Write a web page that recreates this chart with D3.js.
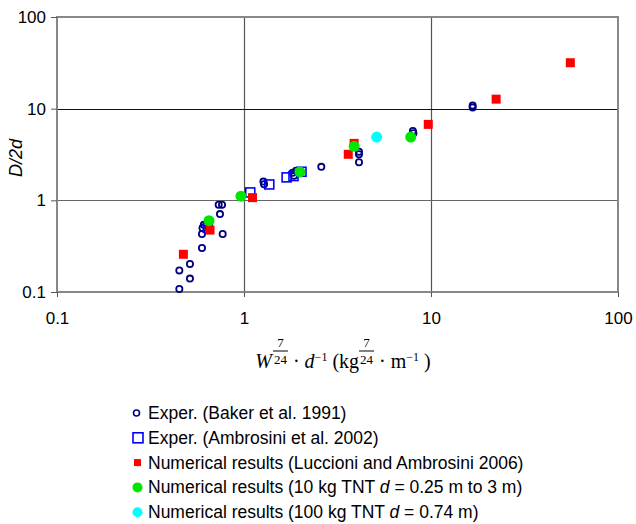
<!DOCTYPE html>
<html><head><meta charset="utf-8">
<script src="https://cdn.jsdelivr.net/npm/d3@7"></script>
<style>body{margin:0;background:#fff}svg{display:block}text{white-space:pre}</style>
</head><body>
<svg id="c" width="636" height="524"></svg>
<script>
// ---- data ----
const xTicks = [0.1, 1, 10, 100];
const yTicks = [0.1, 1, 10, 100];
const tickLabels = ["0.1", "1", "10", "100"];

const bakerX = [0.451,0.514,0.451,0.514,0.596,0.596,0.769,0.744,0.732,0.763,0.61,0.60,1.27,1.28,1.82,1.85,1.9,2.59,4.12,4.12,4.12,8.0,8.05,16.7,16.7];
const bakerY = [0.108,0.140,0.172,0.202,0.302,0.43,0.43,0.708,0.895,0.895,0.54,0.50,1.6,1.5,2.0,1.85,2.1,2.32,3.39,3.18,2.6,5.7,5.4,10.3,10.8];
const ambX = [0.64,1.08,1.365,1.69,1.84,2.03];
const ambY = [0.5,1.22,1.49,1.78,1.84,2.05];
const lucX = [0.474,0.658,1.11,3.61,3.88,9.67,22.3,55.6];
const lucY = [0.258,0.474,1.07,3.18,4.18,6.74,12.7,31.7];
const tnt10X = [0.65,0.963,1.99,3.88,7.79];
const tnt10Y = [0.60,1.11,2.04,3.88,4.9];
const tnt100X = [5.12];
const tnt100Y = [4.9];

const legendLabels = [
  "Exper. (Baker et al. 1991)",
  "Exper. (Ambrosini et al. 2002)",
  "Numerical results (Luccioni and Ambrosini 2006)",
  ["Numerical results (10 kg TNT ", "d", " = 0.25 m to 3 m)"],
  ["Numerical results (100 kg TNT ", "d", " = 0.74 m)"]
];

// ---- chart ----
const svg = d3.select("#c");
const L = 57, R = 618, T = 17, B = 292;
const x = d3.scaleLog().domain([0.1, 100]).range([L, R]);
const y = d3.scaleLog().domain([0.1, 100]).range([B, T]);
const font = "Liberation Sans, Arial, sans-serif";

// grid
const g = svg.append("g");
g.selectAll(".vg").data(xTicks.slice(1, -1)).join("line")
  .attr("x1", d => Math.round(x(d)) + 0.5).attr("x2", d => Math.round(x(d)) + 0.5)
  .attr("y1", T).attr("y2", B).attr("stroke", "#555").attr("stroke-width", 1.2);
g.selectAll(".hg").data(yTicks.slice(1, -1)).join("line")
  .attr("y1", d => Math.round(y(d)) + 0.5).attr("y2", d => Math.round(y(d)) + 0.5)
  .attr("x1", L).attr("x2", R).attr("stroke", d => d === 10 ? "#111" : "#666").attr("stroke-width", 1.2);
// border
g.append("rect").attr("x", L).attr("y", T).attr("width", R - L).attr("height", B - T)
  .attr("fill", "none").attr("stroke", "#888").attr("stroke-width", 2);

// axes
const xAxis = d3.axisBottom(x).tickValues(xTicks).tickFormat((d, i) => tickLabels[i]).tickSize(5).tickPadding(15);
const yAxis = d3.axisLeft(y).tickValues(yTicks).tickFormat((d, i) => tickLabels[i]).tickSize(6).tickPadding(5);
const gx = svg.append("g").attr("transform", `translate(0,${B})`).call(xAxis);
const gy = svg.append("g").attr("transform", `translate(${L},0)`).call(yAxis);
[gx, gy].forEach(a => {
  a.select(".domain").remove();
  a.selectAll(".tick line").attr("stroke", "#555");
  a.selectAll(".tick text").attr("font-family", font).attr("font-size", 17).attr("fill", "#000");
});

// y label
svg.append("text").attr("transform", "translate(22,158) rotate(-90)")
  .attr("text-anchor", "middle").attr("font-family", font).attr("font-size", 18)
  .attr("font-style", "italic").text("D/2d");

// x label (math)
const serif = "Liberation Serif, Times New Roman, serif";
const xl = svg.append("g");
let cx = 0; const base = 0;
function piece(txt, size, dy, italic) {
  const t = xl.append("text").attr("x", cx).attr("y", base + dy).attr("font-family", serif)
    .attr("font-size", size).attr("font-style", italic ? "italic" : "normal").text(txt);
  cx += t.node().getComputedTextLength();
  return t;
}
function frac(n, d, size) {
  const t1 = xl.append("text").attr("font-family", serif).attr("font-size", size).text(n);
  const t2 = xl.append("text").attr("font-family", serif).attr("font-size", size).text(d);
  const w = Math.max(t1.node().getComputedTextLength(), t2.node().getComputedTextLength()) + 2;
  const mid = cx + w / 2;
  t1.attr("x", mid).attr("y", base - 21).attr("text-anchor", "middle");
  t2.attr("x", mid).attr("y", base - 4.5).attr("text-anchor", "middle");
  xl.append("line").attr("x1", cx).attr("x2", cx + w).attr("y1", base - 17).attr("y2", base - 17)
    .attr("stroke", "#000").attr("stroke-width", 1);
  cx += w;
}
piece("W", 20, 0, true); cx += 1;
frac("7", "24", 13);
piece(" · ", 20, 0, false);
piece("d", 20, 0, true);
piece("−1", 12, -7, false);
piece(" (kg", 20, 0, false);
frac("7", "24", 13);
piece(" · m", 20, 0, false);
piece("−1", 12, -7, false);
piece(" )", 20, 0, false);
xl.attr("transform", `translate(${343 - cx / 2},368)`);

// markers
const zip = (a, b) => a.map((v, i) => [v, b[i]]);
const pts = svg.append("g");
pts.selectAll(".bk").data(zip(bakerX, bakerY)).join("circle")
  .attr("cx", d => x(d[0])).attr("cy", d => y(d[1])).attr("r", 3.1)
  .attr("fill", "none").attr("stroke", "#000080").attr("stroke-width", 1.8);
const sa = 9;
pts.selectAll(".am").data(zip(ambX, ambY)).join("rect")
  .attr("x", d => x(d[0]) - sa / 2).attr("y", d => y(d[1]) - sa / 2).attr("width", sa).attr("height", sa)
  .attr("fill", "none").attr("stroke", "#0000ff").attr("stroke-width", 1.6);
const sl = 9;
pts.selectAll(".lu").data(zip(lucX, lucY)).join("rect")
  .attr("x", d => x(d[0]) - sl / 2).attr("y", d => y(d[1]) - sl / 2).attr("width", sl).attr("height", sl)
  .attr("fill", "#ff0000");
pts.selectAll(".t10").data(zip(tnt10X, tnt10Y)).join("circle")
  .attr("cx", d => x(d[0])).attr("cy", d => y(d[1])).attr("r", 5.5).attr("fill", "#00e600");
pts.selectAll(".t100").data(zip(tnt100X, tnt100Y)).join("circle")
  .attr("cx", d => x(d[0])).attr("cy", d => y(d[1])).attr("r", 5.5).attr("fill", "#00ffff");

// legend
const lg = svg.append("g");
const ly0 = 413, ldy = 24.8, lx = 137.5;
lg.append("circle").attr("cx", lx - 1).attr("cy", ly0).attr("r", 3).attr("fill", "none").attr("stroke", "#000080").attr("stroke-width", 1.6);
lg.append("rect").attr("x", lx - 4.5).attr("y", ly0 + ldy - 5).attr("width", 10).attr("height", 10).attr("fill", "none").attr("stroke", "#0000ff").attr("stroke-width", 1.6);
lg.append("rect").attr("x", lx - 3.5).attr("y", ly0 + 2 * ldy - 3.5).attr("width", 7).attr("height", 7).attr("fill", "#ff0000");
lg.append("circle").attr("cx", lx).attr("cy", ly0 + 3 * ldy).attr("r", 5).attr("fill", "#00e600");
lg.append("circle").attr("cx", lx).attr("cy", ly0 + 4 * ldy).attr("r", 5).attr("fill", "#00ffff");
legendLabels.forEach((lab, i) => {
  const t = lg.append("text").attr("x", 148).attr("y", ly0 + i * ldy + 6)
    .attr("font-family", font).attr("font-size", 17.5);
  if (Array.isArray(lab)) {
    lab.forEach((s, j) => t.append("tspan").attr("font-style", j === 1 ? "italic" : "normal").text(s));
  } else t.text(lab);
});
</script>
</body></html>
